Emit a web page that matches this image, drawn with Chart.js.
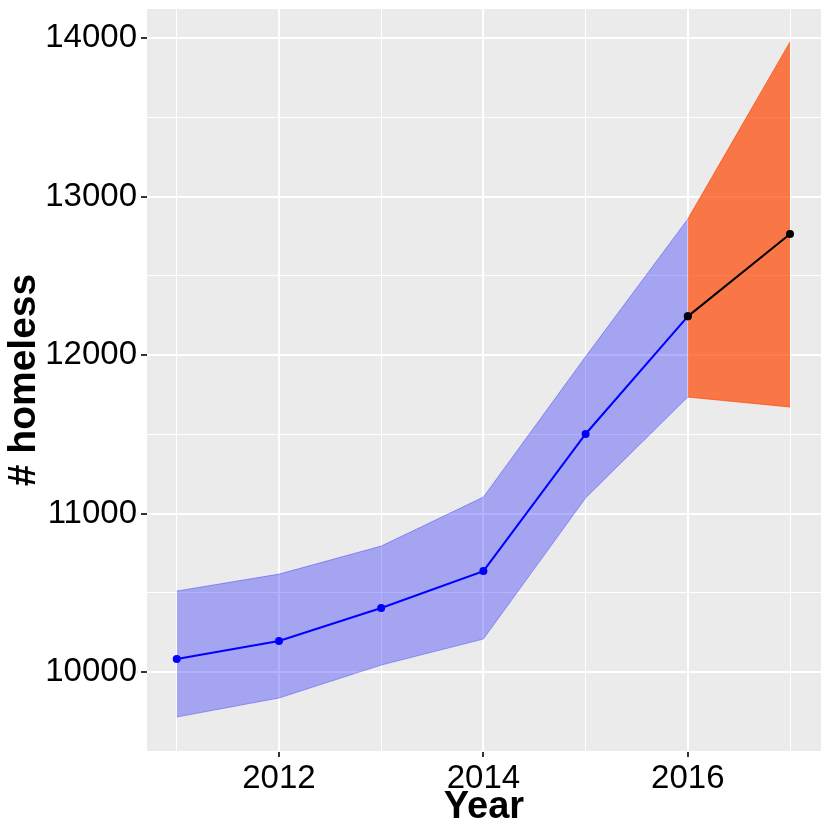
<!DOCTYPE html>
<html>
<head>
<meta charset="utf-8">
<script src="https://cdn.jsdelivr.net/npm/chart.js@4/dist/chart.umd.min.js"></script>
<style>
  html, body { margin: 0; padding: 0; background: #fff; }
  #wrap { width: 830px; height: 830px; }
</style>
</head>
<body>
<div id="wrap"><canvas id="c" width="830" height="830"></canvas></div>
<script>
// observed counts + bands
const years = [2011, 2012, 2013, 2014, 2015, 2016];
const observed = [10082, 10196, 10404, 10637, 11502, 12244];
const obsUpper = [10511, 10618, 10795, 11104, 11990, 12858];
const obsLower = [9716, 9836, 10044, 10208, 11098, 11735];

// forecast
const fcYears = [2016, 2017];
const forecast = [12244, 12763];
const fcUpper = [12858, 13975];
const fcLower = [11735, 11672];

const xMajor = [2012, 2014, 2016];
const yMajor = [10000, 11000, 12000, 13000, 14000];

const pts = (xs, ys) => xs.map((x, i) => ({ x, y: ys[i] }));
const FONT = "'Liberation Sans', Arial, sans-serif";

// grey ggplot panel
const panelBg = {
  id: "panelBg",
  beforeDraw(chart) {
    const { ctx, chartArea: a } = chart;
    ctx.save();
    ctx.fillStyle = "#EBEBEB";
    ctx.fillRect(a.left, a.top, a.right - a.left, a.bottom - a.top);
    ctx.restore();
  },
};

new Chart(document.getElementById("c"), {
  type: "line",
  data: {
    datasets: [
      { data: pts(fcYears, forecast), borderColor: "#000", backgroundColor: "#000", borderWidth: 2, pointRadius: 4, pointBorderWidth: 0, fill: false },
      { data: pts(years, observed), borderColor: "#0000FF", backgroundColor: "#0000FF", borderWidth: 2, pointRadius: 4, pointBorderWidth: 0, fill: false },
      { data: pts(fcYears, fcUpper), borderColor: "rgba(255,69,0,0.7)", backgroundColor: "rgba(255,69,0,0.7)", borderWidth: 1, pointRadius: 0, fill: "+1" },
      { data: pts(fcYears, fcLower), borderColor: "rgba(255,69,0,0.7)", borderWidth: 1, pointRadius: 0, fill: false },
      { data: pts(years, obsUpper), borderColor: "rgba(0,0,255,0.3)", backgroundColor: "rgba(0,0,255,0.3)", borderWidth: 1, pointRadius: 0, fill: "+1" },
      { data: pts(years, obsLower), borderColor: "rgba(0,0,255,0.3)", borderWidth: 1, pointRadius: 0, fill: false },
    ],
  },
  options: {
    responsive: false,
    animation: false,
    layout: { padding: { top: 9, right: 9, left: 0, bottom: 0 } },
    plugins: { legend: { display: false }, tooltip: { enabled: false } },
    elements: { line: { tension: 0 } },
    scales: {
      x: {
        type: "linear", min: 2010.709, max: 2017.303,
        afterBuildTicks(s) { s.ticks = [2011, 2012, 2013, 2014, 2015, 2016, 2017].map((v) => ({ value: v })); },
        afterFit(s) { s.height = 79; s.paddingLeft = 0; s.paddingRight = 0; },
        border: { display: false },
        grid: {
          color: "#FFFFFF",
          lineWidth: (c) => (xMajor.includes(c.tick && c.tick.value) ? 2 : 1),
          tickColor: (c) => (xMajor.includes(c.tick && c.tick.value) ? "#333333" : "rgba(0,0,0,0)"),
          tickLength: 6, tickWidth: 2,
        },
        ticks: {
          autoSkip: false, maxRotation: 0, padding: 2, color: "#000",
          font: { family: FONT, size: 33 },
          callback: (v) => (xMajor.includes(v) ? String(v) : ""),
        },
        title: { display: true, text: "Year", color: "#000", font: { family: FONT, size: 38, weight: "bold" }, padding: { top: 0, bottom: 0 } },
      },
      y: {
        type: "linear", min: 9502, max: 14183,
        afterBuildTicks(s) {
          const t = [];
          for (let v = 9500; v <= 14000; v += 500) t.push({ value: v });
          s.ticks = t;
        },
        afterFit(s) { s.width = 147; s.paddingTop = 0; s.paddingBottom = 0; },
        border: { display: false },
        grid: {
          color: "#FFFFFF",
          lineWidth: (c) => (yMajor.includes(c.tick && c.tick.value) ? 2 : 1),
          tickColor: (c) => (yMajor.includes(c.tick && c.tick.value) ? "#333333" : "rgba(0,0,0,0)"),
          tickLength: 6, tickWidth: 2,
        },
        ticks: {
          autoSkip: false, padding: 4, color: "#000",
          font: { family: FONT, size: 33 },
          callback: (v) => (yMajor.includes(v) ? String(v) : ""),
        },
        title: { display: true, text: "# homeless", color: "#000", font: { family: FONT, size: 39, weight: "bold" }, padding: { top: 1, bottom: 0 } },
      },
    },
  },
  plugins: [panelBg],
});
</script>
</body>
</html>
